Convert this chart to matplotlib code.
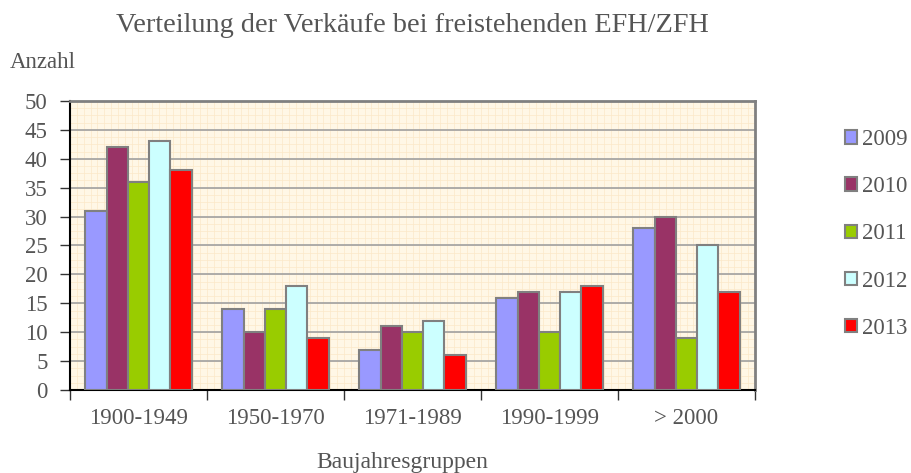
import numpy as np
import matplotlib
matplotlib.use("Agg")
import matplotlib.pyplot as plt

# data
groups = ["1900-1949", "1950-1970", "1971-1989", "1990-1999", "> 2000"]
years = ["2009", "2010", "2011", "2012", "2013"]
v2009 = [31, 14, 7, 16, 28]
v2010 = [42, 10, 11, 17, 30]
v2011 = [36, 14, 10, 10, 9]
v2012 = [43, 18, 12, 17, 25]
v2013 = [38, 9, 6, 18, 17]
series = [v2009, v2010, v2011, v2012, v2013]
colors = ["#9999FF", "#993366", "#99CC00", "#CCFFFF", "#FF0000"]

plt.rcParams['font.family'] = ['Liberation Serif', 'DejaVu Serif']
txt = "#555555"

fig = plt.figure(figsize=(9.11, 4.73), dpi=100)
ax = fig.add_axes([0.0768, 0.1755, 0.752, 0.611])
ax.set_facecolor("#FFF7E6")

x = np.arange(len(groups))
w = 0.155
handles = []
for i, (vals, c) in enumerate(zip(series, colors)):
    b = ax.bar(x + (i - 2) * w, vals, w, color=c, edgecolor="#808080",
               linewidth=1.5, zorder=3, label=years[i])
    handles.append(b)

ax.set_xlim(-0.5, len(groups) - 0.5)
ax.set_ylim(0, 50)
ax.set_yticks(range(0, 51, 5))
ax.yaxis.grid(True, color="#a0a0a0", linewidth=1.2, zorder=1)

# faint background grid pattern
for yy in np.arange(0, 50, 1.25):
    ax.axhline(yy, color="#fbe8c8", linewidth=0.5, zorder=0.5)
for xx in np.linspace(-0.5, 4.5, 101):
    ax.axvline(xx, color="#fbe8c8", linewidth=0.5, zorder=0.5)

ax.set_xticks(np.arange(-0.5, len(groups), 1.0))
ax.set_xticklabels([])
ax.set_xticks(x, minor=True)
ax.set_xticklabels(groups, minor=True)
ax.tick_params(axis="x", which="minor", length=0, pad=13, labelsize=16.5, labelcolor=txt)
ax.tick_params(axis="x", which="major", length=7, width=1, color="#333333")
ax.tick_params(axis="y", length=7, width=1, color="#333333", labelsize=16.5, labelcolor=txt, pad=9)

ax.spines["left"].set_color("black")
ax.spines["left"].set_linewidth(1.5)
ax.spines["bottom"].set_color("black")
ax.spines["bottom"].set_linewidth(1.5)
ax.spines["top"].set_color("#808080")
ax.spines["top"].set_linewidth(2)
ax.spines["right"].set_color("#808080")
ax.spines["right"].set_linewidth(2)

fig.text(0.4528, 0.932, "Verteilung der Verkäufe bei freistehenden EFH/ZFH",
         ha="center", va="baseline", fontsize=20.3, color=txt)
fig.text(0.011, 0.856, "Anzahl", ha="left", va="baseline", fontsize=16.5, color=txt)
fig.text(0.442, 0.0106, "Baujahresgruppen", ha="center", va="baseline", fontsize=17, color=txt)

leg = fig.legend(handles=handles, labels=years, loc="upper left",
                 bbox_to_anchor=(0.928, 0.727), frameon=False, fontsize=16.5,
                 labelcolor=txt, handlelength=0.52, handleheight=0.52,
                 handletextpad=0.2, labelspacing=1.14, borderaxespad=0,
                 borderpad=0)

fig.savefig("out.png", dpi=100)
